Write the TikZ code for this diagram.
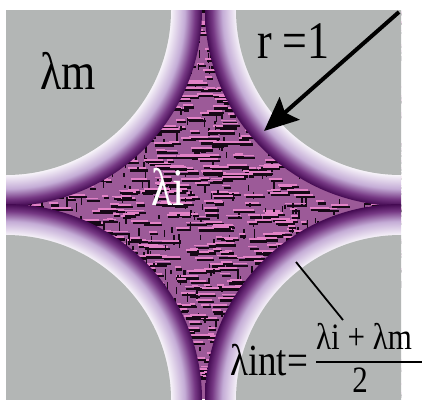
\documentclass[tikz,border=0pt]{standalone}
\usepackage{fontspec}
\setmainfont{Liberation Serif}
\usetikzlibrary{arrows.meta}
\definecolor{graybg}{RGB}{179,182,181}
\definecolor{texbase}{RGB}{156,90,152}
\definecolor{texpink}{RGB}{226,130,198}
\definecolor{texdark}{RGB}{22,8,22}
\definecolor{rimlight}{RGB}{248,245,250}
\definecolor{rimmid}{RGB}{196,172,214}
\definecolor{rimdark}{RGB}{118,56,132}
\definecolor{rimdeep}{RGB}{68,10,82}
\pgfdeclareradialshading{rimshade}{\pgfpointorigin}{color(0bp)=(rimlight); color(21bp)=(rimlight); color(22.8bp)=(rimmid); color(24.1bp)=(rimdark); color(25bp)=(rimdeep); color(50bp)=(rimdeep)}
\newcommand{\tall}[1]{\scalebox{1}[1.2]{#1}}
\begin{document}
\begin{tikzpicture}[x=1pt,y=-1pt,
  lab/.style={inner sep=0pt, text=black},
  bigfont/.style={font=\fontsize{44}{44}\selectfont},
  midfont/.style={font=\fontsize{37}{37}\selectfont},
  smallfont/.style={font=\fontsize{31}{31}\selectfont}]
\useasboundingbox (0,0) rectangle (422,399);
\coordinate (cTL) at (6,10);
\coordinate (cTR) at (401,10);
\coordinate (cBL) at (6,400);
\coordinate (cBR) at (401,400);
\begin{scope}
\clip (6,10) rectangle (401,399);
\fill[texbase] (6,10) rectangle (401,399);
\pgfmathsetseed{7}
\foreach \r in {0,...,64}{
  \foreach \k in {1,...,22}{
    \pgfmathsetmacro\xx{6+rnd*395}
    \pgfmathsetmacro\yy{10+\r*6+rnd*4}
    \pgfmathsetmacro\ll{5+rnd*18}
    \fill[texpink] (\xx,\yy-2) rectangle ++(\ll,1.8);
    \fill[texdark] (\xx+1.5,\yy) rectangle ++(\ll,2.2);
  }
  \foreach \k in {1,...,10}{
    \pgfmathsetmacro\xx{6+rnd*395}
    \pgfmathsetmacro\yy{10+\r*6+rnd*4}
    \pgfmathsetmacro\ll{3+rnd*8}
    \fill[texdark] (\xx,\yy) rectangle ++(1.5,\ll);
  }
}
\foreach \c in {cTL,cTR,cBL,cBR}{
  \shade[shading=rimshade] (\c) circle[radius=196pt];
  \fill[graybg] (\c) circle[radius=165pt];
}
\end{scope}
\node[lab, bigfont, anchor=base west] (lm) at (40,89) {\tall{λm}};
\node[lab, bigfont, anchor=base west] (r1) at (257,58) {\tall{r =1}};
\node[lab, bigfont, text=white, anchor=base west] (li) at (151,205) {\tall{λi}};
\node[lab, midfont, anchor=base west] (lint) at (230,375) {\tall{λint=}};
\node[lab, smallfont, anchor=base] (num) at (364,349) {\tall{λi + λm}};
\node[lab, smallfont, anchor=base] (den) at (360,392) {\tall{2}};
\draw[line width=1.6pt] (316,362) -- (422,362);
\coordinate (aS) at (399,12);
\coordinate (aT) at (264,131);
\draw[line width=4pt, -{Stealth[length=34pt,width=30pt,inset=6pt]}] (aS) -- (aT);
\coordinate (pA) at (296,262);
\coordinate (pB) at (343,320);
\draw[line width=1.8pt] (pA) -- (pB);
\end{tikzpicture}
\end{document}
